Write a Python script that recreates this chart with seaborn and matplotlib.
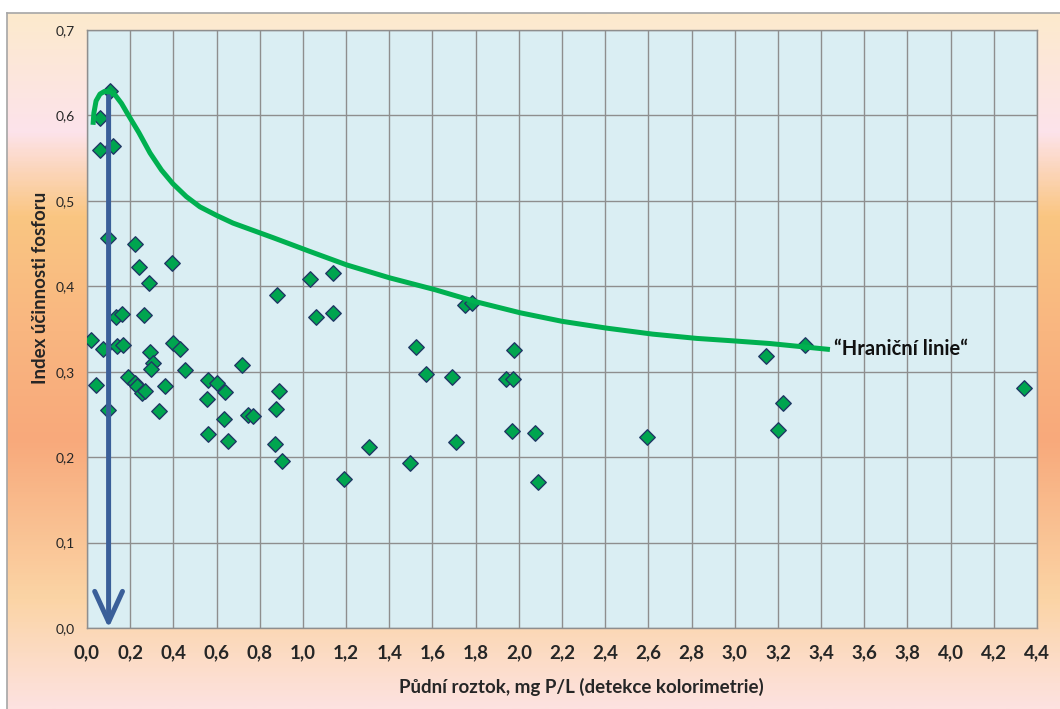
import numpy as np
import pandas as pd
import matplotlib
matplotlib.use("Agg")
import matplotlib.pyplot as plt
from matplotlib.colors import LinearSegmentedColormap
import seaborn as sns

# data
p_roztok = [0.107, 0.060, 0.060, 0.122, 0.096, 0.224, 0.239, 0.394, 0.289, 1.033,
            1.141, 0.879, 1.061, 1.141, 0.134, 0.164, 0.263, 0.017, 0.073, 0.137,
            0.168, 0.397, 0.431, 0.292, 0.304, 0.295, 0.452, 0.716, 0.191, 0.222,
            0.233, 0.253, 0.267, 0.363, 0.040, 0.559, 0.602, 0.638, 0.554, 0.889,
            0.874, 0.744, 0.770, 0.633, 0.099, 0.333, 0.559, 0.651, 0.871, 0.905,
            1.192, 1.751, 1.782, 1.524, 1.978, 1.569, 1.692, 1.941, 1.972, 1.308,
            1.494, 1.711, 1.967, 2.075, 2.087, 2.595, 3.145, 3.327, 3.225, 3.199,
            4.340]
index_ucinnosti = [0.629, 0.597, 0.559, 0.564, 0.457, 0.450, 0.423, 0.427, 0.404, 0.408,
                   0.415, 0.390, 0.364, 0.369, 0.364, 0.367, 0.366, 0.337, 0.327, 0.330,
                   0.331, 0.334, 0.327, 0.323, 0.310, 0.303, 0.302, 0.308, 0.294, 0.287,
                   0.283, 0.275, 0.278, 0.283, 0.285, 0.290, 0.287, 0.276, 0.268, 0.277,
                   0.256, 0.249, 0.248, 0.245, 0.255, 0.254, 0.227, 0.219, 0.215, 0.195,
                   0.175, 0.378, 0.381, 0.329, 0.326, 0.297, 0.294, 0.292, 0.292, 0.212,
                   0.193, 0.218, 0.231, 0.228, 0.171, 0.223, 0.318, 0.331, 0.263, 0.232,
                   0.281]

# hand drawn "boundary line"
hranice_x = [0.028, 0.032, 0.042, 0.060, 0.080, 0.100, 0.130, 0.160, 0.190, 0.240,
             0.292, 0.345, 0.398, 0.460, 0.523, 0.600, 0.676, 0.861, 1.030, 1.203,
             1.400, 1.612, 1.800, 2.006, 2.200, 2.407, 2.620, 2.824, 3.000, 3.163,
             3.441]
hranice_y = [0.589, 0.603, 0.617, 0.625, 0.628, 0.628, 0.624, 0.614, 0.601, 0.580,
             0.556, 0.536, 0.520, 0.505, 0.493, 0.483, 0.474, 0.457, 0.441, 0.425,
             0.410, 0.396, 0.382, 0.369, 0.359, 0.351, 0.344, 0.339, 0.336, 0.333,
             0.326]

sipka_x = 0.1
sipka_y = (0.622, 0.0)

x_ticks = np.round(np.arange(0, 4.41, 0.2), 1)
y_ticks = np.round(np.arange(0, 0.71, 0.1), 1)

df = pd.DataFrame({"x": p_roztok, "y": index_ucinnosti})

sns.set_style("white")
plt.rcParams["font.family"] = ["Lato", "DejaVu Sans"]

fig = plt.figure(figsize=(10.6, 7.09), dpi=100)
fig.patch.set_facecolor("white")

# gradient chart area background
bg = fig.add_axes([7 / 1060, 0, 1 - 7 / 1060, (709 - 13) / 709], zorder=-5)
stops = [(0.0, "#FCEACD"), (117 / 696, "#FDE3EB"), (202 / 696, "#FAC682"),
         (317 / 696, "#F9B680"), (427 / 696, "#F8A97B"), (587 / 696, "#FBD4A5"),
         (1.0, "#FDE2E0")]
cmap = LinearSegmentedColormap.from_list("bg", stops)
grad = np.linspace(0, 1, 400).reshape(-1, 1)
bg.imshow(grad, aspect="auto", cmap=cmap, extent=[0, 1, 0, 1], origin="upper")
bg.set_xlim(0, 1)
bg.set_ylim(0, 1)
bg.set_xticks([])
bg.set_yticks([])
for side in ["right", "bottom"]:
    bg.spines[side].set_visible(False)
for side in ["left", "top"]:
    bg.spines[side].set_color("#A6A6A6")
    bg.spines[side].set_linewidth(1.2)

ax = fig.add_axes([87 / 1060, (709 - 628) / 709, 950 / 1060, 598 / 709])
ax.set_facecolor("#DAEEF3")

sns.scatterplot(data=df, x="x", y="y", marker="D", s=62, color="#00A54F",
                edgecolor="#1F3864", linewidth=1.0, ax=ax, zorder=3)

ax.plot(hranice_x, hranice_y, color="#00B050", lw=3.6, solid_capstyle="butt",
        solid_joinstyle="round", zorder=4)
ax.text(3.46, 0.327, "\u201cHrani\u010dn\u00ed linie\u201c", fontsize=14.5,
        fontweight="bold", ha="left", va="center", color="#111111")

ax.annotate("", xy=(sipka_x, sipka_y[1]), xytext=(sipka_x, sipka_y[0]),
            arrowprops=dict(arrowstyle="->,head_length=1.1,head_width=0.5",
                            color="#3A5F99", lw=3.6, mutation_scale=20,
                            shrinkA=0, shrinkB=0),
            zorder=5)

ax.set_xlim(0, 4.4)
ax.set_ylim(0, 0.7)
ax.set_xticks(x_ticks)
ax.set_yticks(y_ticks)
ax.set_xticklabels([f"{v:.1f}".replace(".", ",") for v in x_ticks],
                   fontsize=13.5, fontweight="bold")
ax.set_yticklabels([f"{v:.1f}".replace(".", ",") for v in y_ticks], fontsize=10)
ax.grid(True, color="#8E8E8E", lw=1.0)
ax.set_axisbelow(True)
for s in ax.spines.values():
    s.set_color("#8E8E8E")
    s.set_linewidth(1.0)
ax.tick_params(axis="x", length=6, width=1, color="#8E8E8E", pad=6)
ax.tick_params(axis="y", length=5, width=1, color="#8E8E8E", pad=4)

ax.set_xlabel("P\u016fdn\u00ed roztok, mg P/L (detekce kolorimetrie)",
              fontsize=13.5, fontweight="bold", va="center")
ax.set_ylabel("Index \u00fa\u010dinnosti fosforu", fontsize=13.5,
              fontweight="bold", va="center")
ax.xaxis.set_label_coords(0.52, -0.099)
ax.yaxis.set_label_coords(-0.049, 0.569)

fig.savefig("out.png", dpi=100)
